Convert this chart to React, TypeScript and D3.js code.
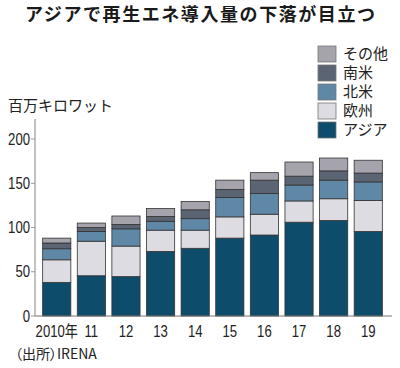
import React from 'react'
import * as d3 from 'd3'

const years = ['2010', '2011', '2012', '2013', '2014', '2015', '2016', '2017', '2018', '2019']
const yearLabels = ['2010年', '11', '12', '13', '14', '15', '16', '17', '18', '19']

// 百万キロワット
const asia = [38, 45.5, 44.5, 73, 76.5, 88, 91.5, 106, 108, 95.5]
const europe = [25.5, 39, 34.5, 24, 20.5, 24, 23.5, 24, 24.5, 35]
const northAmerica = [12.5, 11, 19.5, 10, 13, 22, 23.5, 18, 21, 21]
const southAmerica = [6.5, 4.5, 5, 5.5, 10, 9, 15, 10, 10.5, 10]
const others = [5.5, 5, 9.5, 9, 9.5, 10.5, 8.5, 16, 14.5, 14.5]

const seriesKeys = ['asia', 'europe', 'northAmerica', 'southAmerica', 'others']
const seriesNames = ['アジア', '欧州', '北米', '南米', 'その他']
const seriesColors = ['#0e4c6b', '#dcdce2', '#5f87a6', '#5a6472', '#a5a4ac']
const yTicks = [0, 50, 100, 150, 200]

const jp = '"Noto Sans CJK JP", sans-serif'
const num = '"Liberation Sans", "Noto Sans CJK JP", sans-serif'

export default function App() {
  const width = 400
  const height = 368

  const rows = years.map((y, i) => ({
    year: y,
    asia: asia[i],
    europe: europe[i],
    northAmerica: northAmerica[i],
    southAmerica: southAmerica[i],
    others: others[i],
  }))
  const stacked = d3.stack<any>().keys(seriesKeys)(rows)

  const x = d3.scaleBand().domain(years).range([34, 391]).paddingInner(0.186).paddingOuter(0.25)
  const y = d3.scaleLinear().domain([0, 200]).range([316, 139])

  // legend order: top to bottom is reverse of stack
  const legendOrder = [4, 3, 2, 1, 0]

  return (
    <div style={{ position: 'fixed', left: 0, top: 0 }}>
      <svg width={width} height={height} style={{ display: 'block', background: '#fff' }}>
        <text x={25} y={21} fontFamily={jp} fontWeight="bold" fontSize={18} textLength={350} lengthAdjust="spacing" fill="#1a1a1a">
          アジアで再生エネ導入量の下落が目立つ
        </text>

        <text x={8} y={111} fontFamily={jp} fontSize={15} fill="#222">百万キロワット</text>

        {legendOrder.map((k, i) => (
          <g key={seriesKeys[k]} transform={`translate(318, ${46 + i * 19})`}>
            <rect width={18} height={16} fill={seriesColors[k]} stroke="#777" strokeWidth={0.8} />
            <text x={25} y={13} fontFamily={jp} fontSize={15} fill="#222">{seriesNames[k]}</text>
          </g>
        ))}

        {/* y axis */}
        <line x1={35} x2={35} y1={119} y2={y(0)} stroke="#999" strokeWidth={1.2} />
        {yTicks.map(t => (
          <g key={t} transform={`translate(0, ${y(t)})`}>
            <line x1={31} x2={35} stroke="#999" />
            <text transform="translate(30,0) scale(0.82,1)" dy="0.35em" textAnchor="end" fontFamily={num} fontSize={16} fill="#222">{t}</text>
          </g>
        ))}

        {stacked.map((layer, li) => (
          <g key={layer.key} fill={seriesColors[li]} stroke="#333" strokeWidth={0.8}>
            {layer.map((d, i) => (
              <rect
                key={years[i]}
                x={x(years[i])}
                y={y(d[1])}
                width={x.bandwidth()}
                height={y(d[0]) - y(d[1])}
              />
            ))}
          </g>
        ))}

        {/* x axis */}
        <line x1={35} x2={392} y1={y(0)} y2={y(0)} stroke="#777" strokeWidth={1.2} />
        {years.map((yr, i) => (
          <text
            key={yr}
            transform={`translate(${(x(yr) ?? 0) + x.bandwidth() / 2}, 337) scale(0.82,1)`}
            textAnchor="middle"
            fontFamily={num}
            fontSize={16}
            fill="#222"
          >
            {yearLabels[i]}
          </text>
        ))}

        <text x={15} y={359} fontFamily={jp} fontSize={14} fill="#222" style={{ fontFeatureSettings: '"palt"' }}>（出所）IRENA</text>
      </svg>
    </div>
  )
}
